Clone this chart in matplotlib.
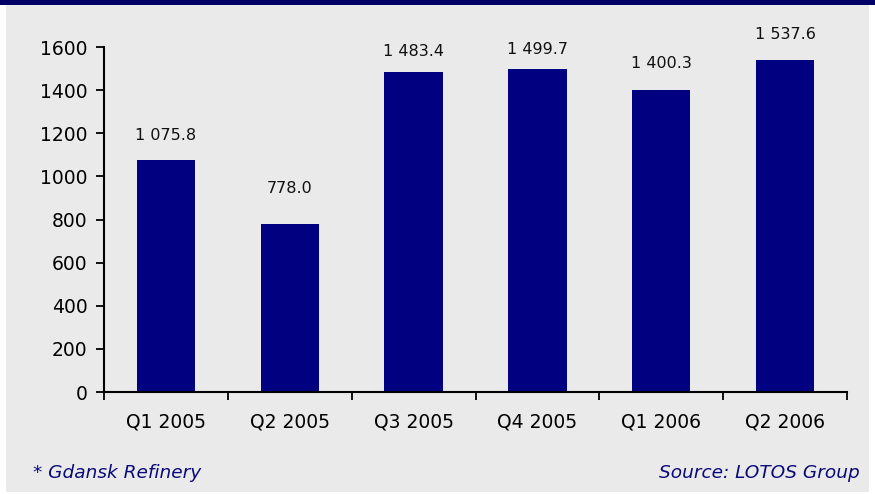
import matplotlib
matplotlib.use('Agg')

import matplotlib.pyplot as plt
from matplotlib.patches import Rectangle

# Quarterly values
quarters = ['Q1 2005', 'Q2 2005', 'Q3 2005', 'Q4 2005', 'Q1 2006', 'Q2 2006']
values = [1075.8, 778.0, 1483.4, 1499.7, 1400.3, 1537.6]
yticks = [0, 200, 400, 600, 800, 1000, 1200, 1400, 1600]

# gap between bar top and its value label (pixels)
label_gap = [25, 36, 21, 19, 27, 26]

W, H = 875, 494
fig = plt.figure(figsize=(W / 100, H / 100), dpi=100, facecolor='white')

# gray panel and navy strip on top
fig.patches.append(Rectangle((6 / W, 1 - 492 / H), (869 - 6) / W, (492 - 5) / H,
                             transform=fig.transFigure, facecolor='#EAEAEA',
                             edgecolor='none', zorder=-2))
fig.patches.append(Rectangle((0, 1 - 5 / H), 1, 5 / H,
                             transform=fig.transFigure, facecolor='#000066',
                             edgecolor='none', zorder=-2))

ax = fig.add_axes([104 / W, 1 - 392 / H, (847 - 104) / W, (392 - 47) / H])
ax.set_facecolor('none')
ax.set_zorder(1)

x = range(len(quarters))
ax.bar(x, values, width=0.47, color='#000080', zorder=2)

for xi, v, gap in zip(x, values, label_gap):
    txt = f'{v:,.1f}'.replace(',', ' ')
    ax.annotate(txt, (xi, v), xytext=(0, gap), textcoords='offset pixels',
                ha='center', va='center', fontsize=11.5, color='#111111',
                annotation_clip=False)

ax.set_xlim(-0.5, len(quarters) - 0.5)
ax.set_ylim(0, 1600)
ax.set_yticks(yticks)
ax.set_yticklabels([str(t) for t in yticks], fontsize=13.5)

# category labels centred, tick marks between categories
ax.set_xticks(list(x))
ax.set_xticklabels(quarters, fontsize=13.5)
ax.tick_params(axis='x', length=0, pad=15)
ax.set_xticks([i - 0.5 for i in range(len(quarters) + 1)], minor=True)
ax.tick_params(axis='x', which='minor', length=6, width=1.3, direction='out')
ax.tick_params(axis='y', length=6, width=1.3, direction='out', pad=6)

for side in ['top', 'right']:
    ax.spines[side].set_visible(False)
for side in ['left', 'bottom']:
    ax.spines[side].set_linewidth(1.5)

fig.text(33 / W, 1 - 473 / H, '* Gdansk Refinery', fontsize=13.3,
         style='italic', color='#0A0A7A', ha='left', va='center')
fig.text(860 / W, 1 - 473 / H, 'Source: LOTOS Group', fontsize=13.3,
         style='italic', color='#0A0A7A', ha='right', va='center')

plt.savefig('out.png', dpi=100, facecolor=fig.get_facecolor())
